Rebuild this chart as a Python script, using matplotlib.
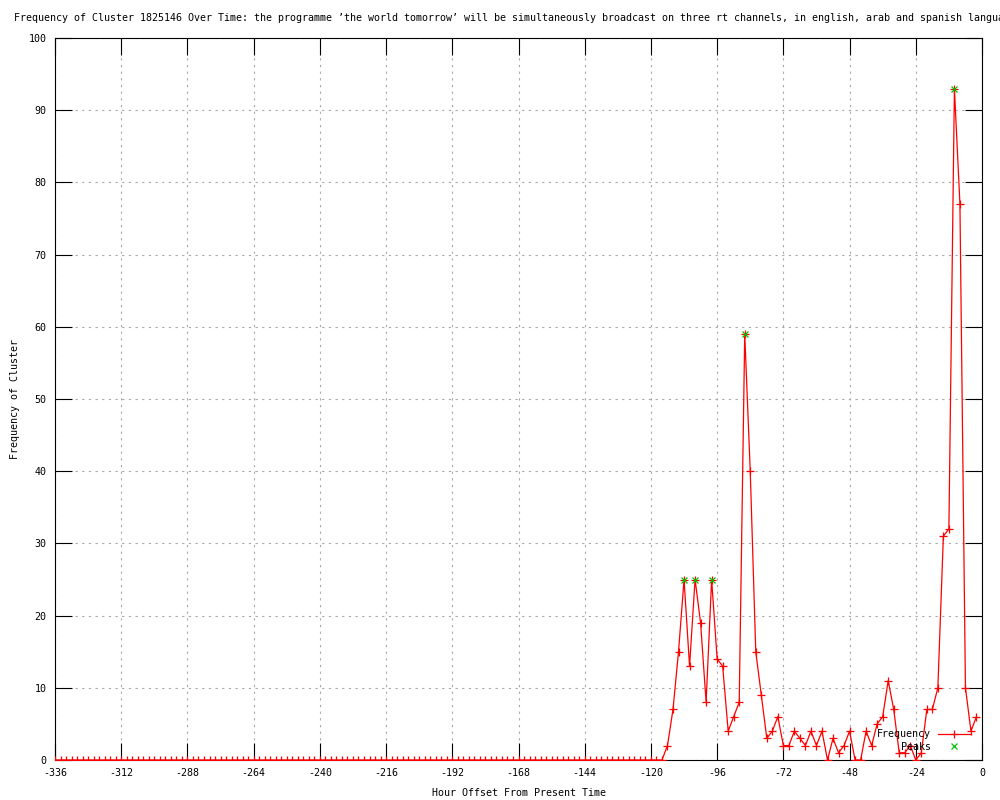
import matplotlib
matplotlib.use("Agg")
import matplotlib.pyplot as plt

plt.rcParams['font.family'] = ['DejaVu Sans Mono']
plt.rcParams['axes.unicode_minus'] = False

title = ("Frequency of Cluster 1825146 Over Time: the programme \u2019the world tomorrow\u2019 "
         "will be simultaneously broadcast on three rt channels, in english, arab and spanish languages")
x_label = "Hour Offset From Present Time"
y_label = "Frequency of Cluster"

hours = list(range(-336, 0, 2))
frequency = [
    # -336 .. -116 (all zero)
    0, 0, 0, 0, 0, 0, 0, 0, 0, 0, 0, 0, 0, 0, 0, 0, 0, 0, 0, 0,
    0, 0, 0, 0, 0, 0, 0, 0, 0, 0, 0, 0, 0, 0, 0, 0, 0, 0, 0, 0,
    0, 0, 0, 0, 0, 0, 0, 0, 0, 0, 0, 0, 0, 0, 0, 0, 0, 0, 0, 0,
    0, 0, 0, 0, 0, 0, 0, 0, 0, 0, 0, 0, 0, 0, 0, 0, 0, 0, 0, 0,
    0, 0, 0, 0, 0, 0, 0, 0, 0, 0, 0, 0, 0, 0, 0, 0, 0, 0, 0, 0,
    0, 0, 0, 0, 0, 0, 0, 0, 0, 0, 0,
    # -114 .. -2
    2, 7, 15, 25, 13, 25, 19, 8, 25, 14, 13, 4, 6, 8, 59, 40, 15, 9, 3, 4,
    6, 2, 2, 4, 3, 2, 4, 2, 4, 0, 3, 1, 2, 4, 0, 0, 4, 2, 5, 6,
    11, 7, 1, 1, 2, 0, 1, 7, 7, 10, 31, 32, 93, 77, 10, 4, 6,
]
peak_hours = [-108, -104, -98, -86, -10]
peak_values = [25, 25, 25, 59, 93]

x_ticks = [-336, -312, -288, -264, -240, -216, -192, -168, -144, -120, -96, -72, -48, -24, 0]
y_ticks = [0, 10, 20, 30, 40, 50, 60, 70, 80, 90, 100]

fig = plt.figure(figsize=(10, 8), dpi=100)
ax = fig.add_axes([0.055, 0.05, 0.927, 0.9025])

fs = 7.2
ax.plot(hours, frequency, color='#ff0000', lw=0.9, marker='+', markersize=6,
        markeredgewidth=0.9, label='Frequency', zorder=3)
ax.plot(peak_hours, peak_values, linestyle='none', color='#00c000', marker='x',
        markersize=5, markeredgewidth=0.9, label='    Peaks', zorder=4)

ax.set_xlim(-336, 0)
ax.set_ylim(0, 100)
ax.set_xticks(x_ticks)
ax.set_yticks(y_ticks)
ax.tick_params(direction='in', length=12, width=0.8, top=True, right=True,
               labelsize=fs, pad=6, colors='black')
ax.grid(True, color='#a8a8a8', linestyle=(0, (2, 4)), linewidth=0.8)
for s in ax.spines.values():
    s.set_linewidth(0.8)

ax.set_xlabel(x_label, fontsize=fs, labelpad=7)
ax.set_ylabel(y_label, fontsize=fs, labelpad=6)
fig.text(0.014, 1 - 18 / 800, title, fontsize=fs, ha='left', va='center')

leg = ax.legend(loc='lower right', bbox_to_anchor=(0.988, 0.0115), frameon=False,
                markerfirst=False, fontsize=fs, handlelength=3.3, handletextpad=0.7,
                labelspacing=0.25, borderpad=0, borderaxespad=0)

fig.savefig('out.png', dpi=100)
